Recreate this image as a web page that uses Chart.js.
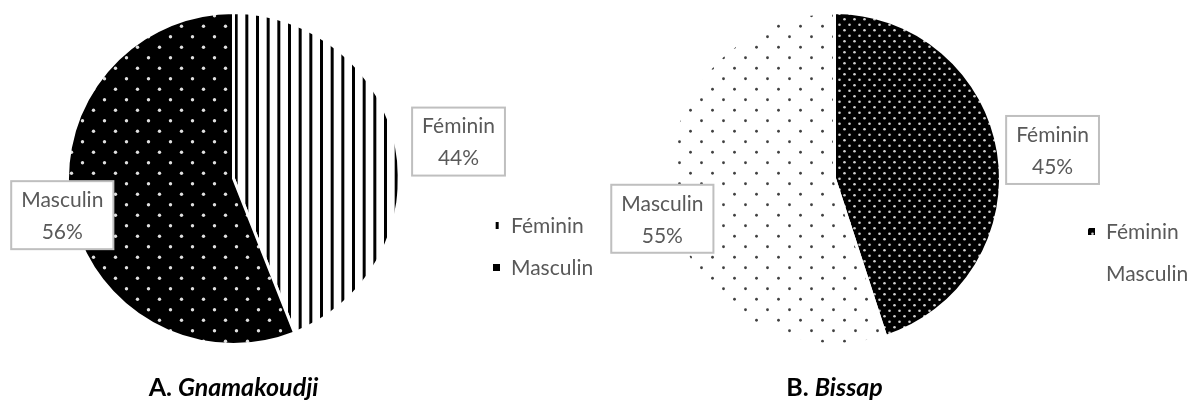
<!DOCTYPE html>
<html lang="fr">
<head>
<meta charset="UTF-8">
<title>Répartition par sexe - Gnamakoudji / Bissap</title>
<script src="https://cdn.jsdelivr.net/npm/chart.js"></script>
<style>
  body { margin: 0; background: #fff; }
  #wrap { position: relative; width: 1194px; height: 401px; }
  .half { position: absolute; top: 0; width: 597px; height: 401px; }
  #halfA { left: 0; }
  #halfB { left: 597px; }
</style>
</head>
<body>
<div id="wrap">
  <div class="half" id="halfA"><canvas id="chartA" width="597" height="401"></canvas></div>
  <div class="half" id="halfB"><canvas id="chartB" width="597" height="401"></canvas></div>
</div>
<script>
// Data
const categories = ['Féminin', 'Masculin'];
const gnamakoudjiValues = [44, 56];
const bissapValues = [45, 55];
const titleA = ['A. ', 'Gnamakoudji'];
const titleB = ['B. ', 'Bissap'];

// Build a repeating fill from a small tile
function makePattern(w, h, draw) {
    const c = document.createElement('canvas');
    c.width = w; c.height = h;
    const ctx = c.getContext('2d');
    draw(ctx);
    return ctx.createPattern(c, 'repeat');
}

function dots(ctx, pts, r, color) {
    ctx.fillStyle = color;
    pts.forEach(p => { ctx.beginPath(); ctx.arc(p[0], p[1], r, 0, Math.PI * 2); ctx.fill(); });
}

// vertical black stripes on white
const stripes = makePattern(32, 4, ctx => {
    ctx.fillStyle = '#fff'; ctx.fillRect(0, 0, 32, 4);
    ctx.fillStyle = '#000';
    [0, 10.67, 21.33].forEach(x => ctx.fillRect(x, 0, 3, 4));
});
// black with sparse white dots
const darkSparse = makePattern(22, 21, ctx => {
    ctx.fillStyle = '#000'; ctx.fillRect(0, 0, 22, 21);
    dots(ctx, [[5.5, 5.25], [16.5, 15.75]], 1.7, '#e0e0e0');
});
// black with dense white dots
const darkDense = makePattern(10, 11, ctx => {
    ctx.fillStyle = '#000'; ctx.fillRect(0, 0, 10, 11);
    dots(ctx, [[2.5, 2.75], [7.5, 8.25]], 1.3, '#cfcfcf');
});
// white with sparse black dots
const lightSparse = makePattern(22, 21, ctx => {
    ctx.fillStyle = '#fff'; ctx.fillRect(0, 0, 22, 21);
    dots(ctx, [[5.5, 5.25], [16.5, 15.75]], 1.4, '#404040');
});

const FONT = 'Lato, "Open Sans", sans-serif';

// Label boxes, legend and title drawn after the pie
const decorPlugin = {
    id: 'decor',
    afterDatasetsDraw(chart, args, opts) {
        const ctx = chart.ctx;
        const meta = chart.getDatasetMeta(0);
        const values = chart.data.datasets[0].data;
        const fills = chart.data.datasets[0].backgroundColor;
        ctx.save();

        // data labels
        ctx.font = '21px ' + FONT;
        ctx.textAlign = 'center';
        ctx.textBaseline = 'middle';
        meta.data.forEach((arc, i) => {
            const mid = (arc.startAngle + arc.endAngle) / 2;
            const d = arc.outerRadius * opts.labelDist[i];
            const cx = arc.x + Math.cos(mid) * d;
            const cy = arc.y + Math.sin(mid) * d + opts.labelDy[i];
            const l1 = chart.data.labels[i], l2 = values[i] + '%';
            const w = Math.max(ctx.measureText(l1).width, ctx.measureText(l2).width) + 20;
            const h = 68;
            ctx.fillStyle = '#fff';
            ctx.fillRect(cx - w / 2, cy - h / 2, w, h);
            ctx.strokeStyle = '#bfbfbf';
            ctx.lineWidth = 2;
            ctx.strokeRect(cx - w / 2, cy - h / 2, w, h);
            ctx.fillStyle = '#595959';
            ctx.fillText(l1, cx, cy - 15);
            ctx.fillText(l2, cx, cy + 17);
        });

        // legend
        ctx.textAlign = 'left';
        chart.data.labels.forEach((lab, i) => {
            const y = opts.legendY + i * 42;
            ctx.save();
            ctx.translate(opts.legendX - 8, y - 12);
            ctx.fillStyle = fills[i];
            ctx.fillRect(8, 8, 7, 7);
            ctx.restore();
            ctx.fillStyle = '#595959';
            ctx.fillText(lab, opts.legendX + 18, y);
        });

        // title under the pie
        const cx = meta.data[0].x;
        ctx.fillStyle = '#000';
        ctx.textBaseline = 'alphabetic';
        const f1 = 'bold 25px ' + FONT, f2 = 'italic bold 25px ' + FONT;
        ctx.font = f1; const w1 = ctx.measureText(opts.title[0]).width;
        ctx.font = f2; const w2 = ctx.measureText(opts.title[1]).width;
        const x0 = cx - (w1 + w2) / 2;
        ctx.font = f1; ctx.fillText(opts.title[0], x0, 396);
        ctx.font = f2; ctx.fillText(opts.title[1], x0 + w1, 396);
        ctx.restore();
    }
};

function makePie(id, values, fills, padding, decor) {
    return new Chart(document.getElementById(id), {
        type: 'pie',
        data: {
            labels: categories,
            datasets: [{ data: values, backgroundColor: fills, borderColor: '#fff', borderWidth: 3 }]
        },
        options: {
            responsive: false,
            animation: false,
            events: [],
            layout: { padding: padding },
            plugins: { legend: { display: false }, tooltip: { enabled: false }, decor: decor }
        },
        plugins: [decorPlugin]
    });
}

makePie('chartA', gnamakoudjiValues, [stripes, darkSparse],
    { left: 66, right: 196, top: 11, bottom: 55 },
    { labelDist: [1.38, 1.05], labelDy: [6, 4], legendX: 493, legendY: 226, title: titleA });

makePie('chartB', bissapValues, [darkDense, lightSparse],
    { left: 70, right: 192, top: 11, bottom: 55 },
    { labelDist: [1.33, 1.05], labelDy: [6, 13], legendX: 491, legendY: 232, title: titleB });
</script>
</body>
</html>
